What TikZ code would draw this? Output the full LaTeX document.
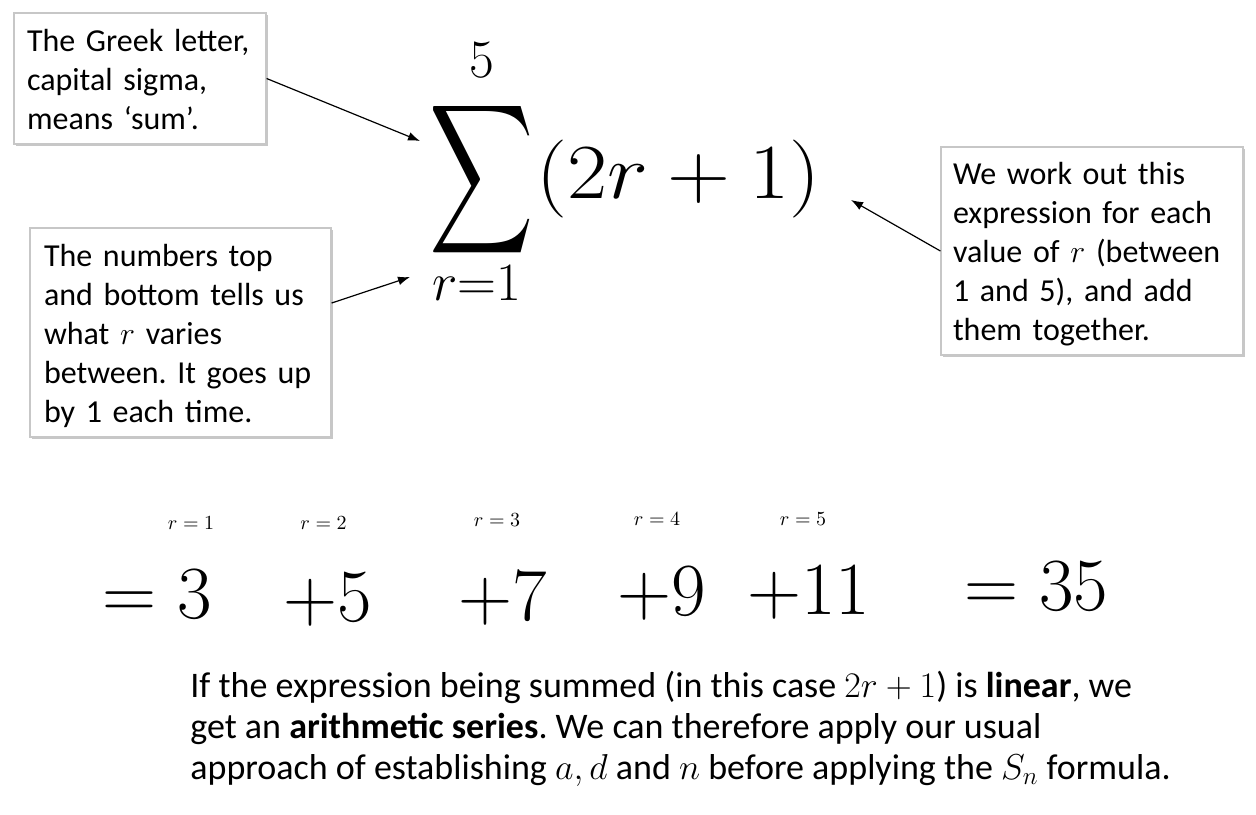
\RequirePackage{fix-cm}
\documentclass[tikz,border=0pt]{standalone}
\usepackage[no-math]{fontspec}
\setmainfont{Carlito}
\usepackage{graphicx}
\usetikzlibrary{arrows.meta,shadows}
\newcommand{\topstrut}{\rule{0pt}{17.6pt}}
\frenchspacing
\begin{document}
\begin{tikzpicture}[x=0.5pt,y=-0.5pt,
  box/.style={draw=black!22, line width=0.6pt, fill=white,
    general shadow={fill=black!22, shadow xshift=1.2pt, shadow yshift=-1.2pt},
    align=left, inner xsep=6.5pt, inner ysep=0pt, font=\fontsize{16}{19.5}\selectfont},
  arr/.style={-{Latex[length=6pt,width=4.4pt]}, line width=0.6pt},
  big/.style={anchor=base west, inner sep=0pt, font=\fontsize{37.5}{40}\selectfont},
  lab/.style={anchor=base, inner sep=0pt, font=\fontsize{10}{11}\selectfont},
  sumpart/.style={anchor=base, inner sep=0pt, font=\fontsize{27}{29}\selectfont}]
\useasboundingbox (0,0) rectangle (1256,814);

% boxes
\node[box, minimum width=126pt, minimum height=65.5pt, text width=113pt] (b1) at (140,78.5)
  {\topstrut The Greek letter,\\ capital sigma,\\ means ‘sum’.\strut};
\node[box, inner xsep=7pt, minimum width=150.5pt, minimum height=104.5pt, text width=136.5pt] (b2) at (180.5,332.5)
  {\topstrut The numbers top\\ and bottom tells us\\ what $r$ varies\\ between. It goes up\\ by 1 each time.\strut};
\node[box, inner xsep=6pt, minimum width=151pt, minimum height=104pt, text width=139pt] (b3) at (1092,251)
  {\topstrut We work out this\\ expression for each\\ value of $r$ (between\\ 1 and 5), and add\\ them together.\strut};

% sum
\node[inner sep=0pt] (sig) at (482,179.5) {\resizebox*{52.2pt}{83.6pt}{$\displaystyle\sum$}};
\node[sumpart] (up) at (481.5,77) {$5$};
\node[sumpart] (low) at (477,300.5) {$r{=}1$};
\node[anchor=base west, inner sep=0pt, font=\fontsize{39}{42}\selectfont] (expr) at (536,198)
  {\scalebox{1.12}[1]{$(2r+1)$}};

% arrows
\coordinate (t1) at (420,141);
\coordinate (t2) at (410,277);
\coordinate (t3) at (851,200);
\draw[arr] (b1.east) -- (t1);
\draw[arr] ([yshift=14.75pt]b2.east) -- (t2);
\draw[arr] (b3.west) -- (t3);

% small labels
\node[lab] (l1) at (191,529) {$r=1$};
\node[lab] (l2) at (323.5,529) {$r=2$};
\node[lab] (l3) at (497,526) {$r=3$};
\node[lab] (l4) at (657,525) {$r=4$};
\node[lab] (l5) at (803,525) {$r=5$};

% terms
\node[big] (n1) at (102,618) {$=3$};
\node[big] (n2) at (283,621) {$+5$};
\node[big] (n3) at (458,620) {$+7$};
\node[big] (n4) at (617,615) {$+9$};
\node[big] (n5) at (747,614) {$+11$};
\node[big] (n6) at (964,610) {$=35$};

% paragraph
\node[anchor=north west, inner sep=0pt, align=left, font=\fontsize{18}{20.5}\selectfont] (para) at (190,668.3)
  {\strut If the expression being summed (in this case $2r+1$) is \textbf{linear}, we\\
   get an \textbf{arithmetic series}. We can therefore apply our usual\\
   approach of establishing $a, d$ and $n$ before applying the $S_n$ formula.};
\end{tikzpicture}
\end{document}
